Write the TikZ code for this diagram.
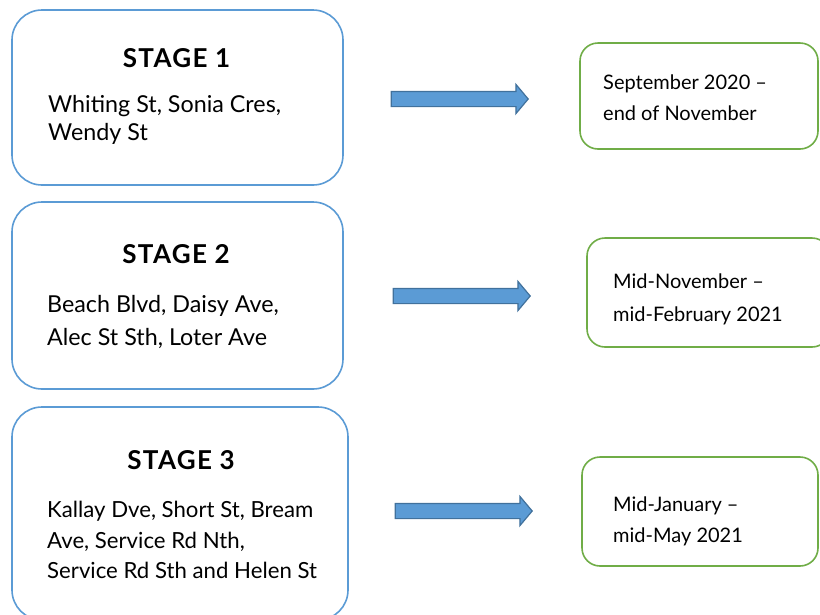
\documentclass[tikz,border=0pt]{standalone}
\usepackage{fontspec}
\setmainfont{Lato}
\usetikzlibrary{shapes.arrows}
\definecolor{boxblue}{HTML}{5B9BD5}
\definecolor{arrowline}{HTML}{41719C}
\definecolor{boxgreen}{HTML}{70AD47}
\tikzset{
  stagebox/.style={draw=boxblue, line width=1.6pt, rounded corners=30pt, fill=white, inner sep=0pt},
  datebox/.style={draw=boxgreen, line width=1.6pt, rounded corners=18pt, fill=white, inner sep=0pt},
  blockarrow/.style={single arrow, draw=arrowline, fill=boxblue, line width=1.2pt,
    minimum width=28pt, single arrow head extend=7pt, single arrow tip angle=100,
    inner xsep=0pt, inner ysep=7pt, minimum height=137pt},
  title/.style={font=\fontsize{26}{30}\selectfont\bfseries\addfontfeature{LetterSpace=5}, anchor=base, inner sep=0pt},
  body/.style={font=\fontsize{23.3}{28}\selectfont, anchor=base west, inner sep=0pt},
  bodysmall/.style={font=\fontsize{22.2}{26}\selectfont, anchor=base west, inner sep=0pt},
  datetext/.style={font=\fontsize{20}{24}\selectfont, anchor=base west, inner sep=0pt},
}
\begin{document}
\begin{tikzpicture}[x=1pt,y=-1pt]
\useasboundingbox (0,0) rectangle (820,614);
% stage boxes
\node[stagebox, minimum width=331pt, minimum height=175pt] (s1) at (177.5,97.5) {};
\node[stagebox, minimum width=331pt, minimum height=187pt] (s2) at (177.5,295.5) {};
\node[stagebox, minimum width=336pt, minimum height=213pt] (s3) at (180,513.5) {};
% date boxes
\node[datebox, minimum width=238pt, minimum height=106pt] (d1) at (699,96) {};
\node[datebox, minimum width=243pt, minimum height=109pt] (d2) at (708.5,292.5) {};
\node[datebox, minimum width=236pt, minimum height=109pt] (d3) at (700,511.5) {};
% arrows
\node[blockarrow] (a1) at (456.5,99) {};
\node[blockarrow] (a2) at (458.5,296) {};
\node[blockarrow] (a3) at (460.5,511) {};
% stage texts
\node[title] (t1) at (176.5,67) {STAGE 1};
\node[body] (t1a) at (48,112) {Whiting St, Sonia Cres,};
\node[body] (t1b) at (48,140) {Wendy St};
\node[title] (t2) at (176,263) {STAGE 2};
\node[body] (t2a) at (47,312) {Beach Blvd, Daisy Ave,};
\node[body] (t2b) at (47,345) {Alec St Sth, Loter Ave};
\node[title] (t3) at (181,469) {STAGE 3};
\node[bodysmall] (t3a) at (47,517) {Kallay Dve, Short St, Bream};
\node[bodysmall] (t3b) at (47,548) {Ave, Service Rd Nth,};
\node[bodysmall] (t3c) at (47,578) {Service Rd Sth and Helen St};
% date texts
\node[datetext] (u1a) at (603,89) {September 2020 –};
\node[datetext] (u1b) at (603,120) {end of November};
\node[datetext] (u2a) at (613,288) {Mid-November –};
\node[datetext] (u2b) at (613,321) {mid-February 2021};
\node[datetext] (u3a) at (613,511) {Mid-January –};
\node[datetext] (u3b) at (613,542) {mid-May 2021};
\end{tikzpicture}
\end{document}
